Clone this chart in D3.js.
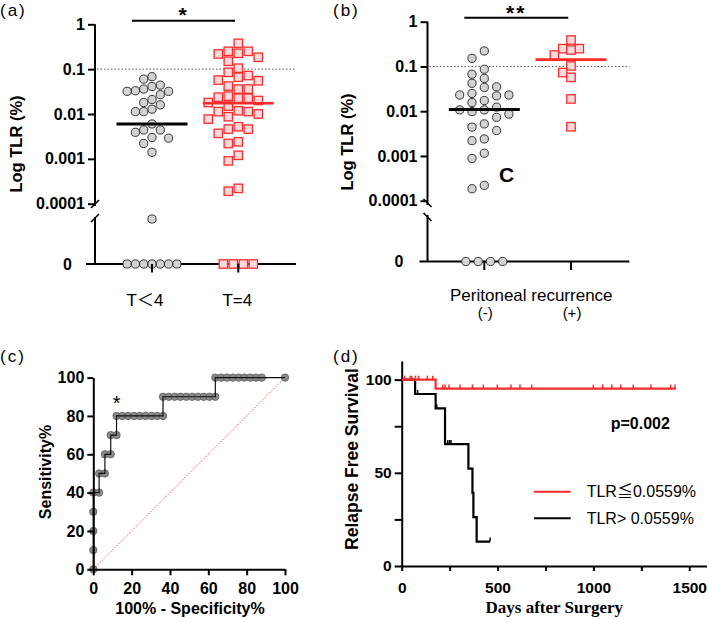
<!DOCTYPE html>
<html><head><meta charset="utf-8">
<script src="https://cdn.jsdelivr.net/npm/d3@7"></script>
<style>
html,body{margin:0;padding:0;background:#fff;}
svg{display:block;}
</style></head><body>
<svg id="c" width="709" height="619"></svg>
<script>
// ---------------- DATA ----------------
// Panel (a): TLR (%) by T stage (0 = undetectable)
const catA = ["T\uFF1C4", "T=4"];
const aLowT = [0.068, 0.060, 0.044, 0.041, 0.036, 0.033, 0.032, 0.032, 0.027, 0.021, 0.018, 0.016,
  0.0128, 0.0113, 0.0113, 0.006, 0.0044, 0.0044, 0.0039, 0.0030, 0.0029, 0.0022, 0.0014, 0.00009,
  0, 0, 0, 0, 0, 0, 0];
const aT4 = [0.377, 0.25, 0.25, 0.226, 0.218, 0.184, 0.15, 0.105, 0.085, 0.072, 0.066, 0.057, 0.055,
  0.042, 0.036, 0.036, 0.025, 0.0237, 0.0225, 0.0225, 0.020, 0.018, 0.015, 0.0118, 0.0113, 0.0113,
  0.010, 0.0087, 0.0077, 0.0052, 0.0046, 0.0046, 0.0037, 0.0024, 0.0022, 0.0012, 0.0009, 0.00022, 0.00019,
  0, 0, 0, 0];
const aMedians = [0.006, 0.0174];

// Panel (b): TLR (%) by peritoneal recurrence
const catB = ["(-)", "(+)"];
const bNeg = [0.222, 0.152, 0.0865, 0.067, 0.054, 0.042, 0.035, 0.034, 0.025, 0.023, 0.023, 0.022,
  0.0173, 0.0156, 0.0123, 0.0107, 0.0107, 0.0098, 0.0086, 0.0073, 0.0052, 0.0044, 0.0037, 0.0024,
  0.0022, 0.00115, 0.00088, 0.00022, 0.000185, 0, 0, 0, 0];
const bPos = [0.39, 0.25, 0.25, 0.233, 0.18, 0.1025, 0.073, 0.057, 0.0188, 0.0045];
const bMedians = [0.0109, 0.142];

const logTicks = [1, 0.1, 0.01, 0.001, 0.0001];
const zeroTick = [0];

// Panel (c): ROC curve
const rocFPR = [0, 0, 0, 0, 0, 3.03, 3.03, 6.06, 6.06, 9.09, 9.09, 12.12, 12.12, 15.15, 18.18, 21.21,
  24.24, 27.27, 30.30, 33.33, 36.36, 36.36, 39.39, 42.42, 45.45, 48.48, 51.52, 54.55, 57.58, 60.61,
  63.64, 63.64, 66.67, 69.70, 72.73, 75.76, 78.79, 81.82, 84.85, 87.88, 100];
const rocSens = [0, 10, 20, 30, 40, 40, 50, 50, 60, 60, 70, 70, 80, 80, 80, 80, 80, 80, 80, 80, 80,
  90, 90, 90, 90, 90, 90, 90, 90, 90, 90, 100, 100, 100, 100, 100, 100, 100, 100, 100, 100];
const rocTicks = [0, 20, 40, 60, 80, 100];

// Panel (d): Kaplan-Meier relapse free survival
const kmLowTime = [0, 177, 1430];
const kmLowSurv = [100, 95.2, 95.2];
const kmLowCensor = [15, 44, 52, 72, 88, 134, 162, 214, 226, 247, 304, 369, 426, 499, 570, 617, 678,
  1000, 1049, 1096, 1143, 1208, 1300, 1403, 1426];
const kmHighTime = [0, 70, 177, 226, 348, 369, 374, 391, 461];
const kmHighSurv = [100, 92.3, 84.6, 65.4, 52.3, 39.2, 26.2, 13.1, 13.1];
const kmHighCensor = [83, 183, 240, 249, 257, 461];
const kmYTicks = [0, 25, 50, 75, 100];
const kmYLabels = [0, 50, 100];
const kmXTicks = [0, 250, 500, 750, 1000, 1250, 1500];
const kmXLabels = [0, 500, 1000, 1500];
const legendLabels = ["TLR\u22660.0559%", "TLR> 0.0559%"];

// ---------------- DRAW ----------------
const SANS = '"Liberation Sans", Arial, "Noto Sans CJK JP", sans-serif';
const SERIF = '"Liberation Serif", "Times New Roman", serif';
const RED = "#ff2a2a";
const svg = d3.select("#c");
svg.append("rect").attr("width", 709).attr("height", 619).attr("fill", "#fff");

function styleAxis(g, size, weight) {
  g.attr("font-family", SANS).attr("font-size", size).attr("font-weight", weight);
  g.selectAll("text").attr("fill", "#000");
  g.selectAll(".tick line").attr("stroke", "#000").attr("stroke-width", 2);
  g.select(".domain").attr("stroke", "#000").attr("stroke-width", 2);
}

function swarm(values, yf, cx, step, minDist) {
  const placed = [];
  values.filter(v => v > 0).slice().sort((a, b) => b - a).forEach(v => {
    const y = yf(v);
    for (let i = 0; i < 60; i++) {
      const k = i === 0 ? 0 : (i % 2 ? -Math.ceil(i / 2) : Math.ceil(i / 2));
      if (!placed.some(p => p.k === k && Math.abs(p.y - y) < minDist)) { placed.push({ v, y, k }); break; }
    }
  });
  const out = placed.map(p => ({ v: p.v, x: cx + p.k * step, y: p.y }));
  const z = values.filter(v => v === 0);
  z.forEach((v, i) => out.push({ v, x: cx + (i - (z.length - 1) / 2) * step, y: yf(0) }));
  return out;
}

function scatterPanel(o) {
  const yLog = d3.scaleLog().domain([1e-4, 1]).range([o.yMin, o.yOne]);
  const yLin = d3.scaleLinear().domain([0, 1e-4]).range([o.yZero, o.linTop]);
  const yf = v => v >= 1e-4 ? yLog(v) : yLin(v);
  const x = d3.scalePoint().domain(o.cats).range(o.catRange);
  const g = svg.append("g");

  // reference line at 0.1
  g.append("line").attr("x1", o.axisX + 2).attr("x2", o.xRight)
    .attr("y1", yLog(0.1)).attr("y2", yLog(0.1))
    .attr("stroke", "#555").attr("stroke-width", 1).attr("stroke-dasharray", "1.5,2");

  // y axis (log part + zero part)
  const ga = g.append("g").attr("transform", `translate(${o.axisX},0)`)
    .call(d3.axisLeft(yLog).tickValues(logTicks).tickFormat(d => String(d)).tickSize(7).tickPadding(3).tickSizeOuter(0));
  ga.select(".domain").remove();
  styleAxis(ga, 16, "bold");
  const gz = g.append("g").attr("transform", `translate(${o.axisX},0)`)
    .call(d3.axisLeft(yLin).tickValues(zeroTick).tickFormat(d => String(d)).tickSize(7).tickPadding(o.zeroPad).tickSizeOuter(0));
  gz.select(".domain").remove();
  gz.selectAll(".tick line").remove();
  styleAxis(gz, 16, "bold");

  g.append("line").attr("x1", o.axisX).attr("x2", o.axisX).attr("y1", o.yOne).attr("y2", o.gapTop)
    .attr("stroke", "#000").attr("stroke-width", 2);
  g.append("line").attr("x1", o.axisX).attr("x2", o.axisX).attr("y1", o.gapBottom).attr("y2", o.yZero)
    .attr("stroke", "#000").attr("stroke-width", 2);
  o.slashes.forEach(sy => {
    g.append("line").attr("x1", o.axisX - 4).attr("x2", o.axisX + 4)
      .attr("y1", sy + 4 * o.slashDir).attr("y2", sy - 4 * o.slashDir)
      .attr("stroke", "#000").attr("stroke-width", 1.6);
  });

  // x axis line
  g.append("line").attr("x1", o.xLeft).attr("x2", o.xRight).attr("y1", o.yZero).attr("y2", o.yZero)
    .attr("stroke", "#000").attr("stroke-width", 2);

  // points
  o.groups.forEach((grp, gi) => {
    const pts = swarm(grp.values, yf, x(o.cats[gi]), grp.step, grp.minDist);
    if (grp.shape === "circle") {
      g.selectAll(null).data(pts).enter().append("circle")
        .attr("cx", d => d.x).attr("cy", d => d.y).attr("r", 4.1)
        .attr("fill", "#d3d3d3").attr("stroke", "#333").attr("stroke-width", 1);
    } else {
      g.selectAll(null).data(pts).enter().append("rect")
        .attr("x", d => d.x - 4.2).attr("y", d => d.y - 4.2).attr("width", 8.4).attr("height", 8.4)
        .attr("fill", "#fbd9dc").attr("stroke", RED).attr("stroke-width", 1.3);
    }
  });

  // category ticks
  o.cats.forEach(c => {
    g.append("line").attr("x1", x(c)).attr("x2", x(c)).attr("y1", o.yZero).attr("y2", o.yZero + 8.5)
      .attr("stroke", "#000").attr("stroke-width", 2);
  });

  // medians
  o.medians.forEach((m, i) => {
    g.append("line").attr("x1", x(o.cats[i]) - 35.5).attr("x2", x(o.cats[i]) + 35.5)
      .attr("y1", yLog(m)).attr("y2", yLog(m))
      .attr("stroke", o.medColors[i]).attr("stroke-width", i === 0 ? 3 : 2.6);
  });

  // significance bar
  g.append("line").attr("x1", o.sig.x1).attr("x2", o.sig.x2).attr("y1", o.sig.y).attr("y2", o.sig.y)
    .attr("stroke", "#000").attr("stroke-width", 2);
  g.append("text").attr("x", (o.sig.x1 + o.sig.x2) / 2).attr("y", o.sig.ty)
    .attr("text-anchor", "middle").attr("font-family", SANS).attr("font-weight", "bold")
    .attr("font-size", 21).attr("letter-spacing", 2).text(o.sig.text);
  return { x, yLog, yf, g };
}

// ---- Panel (a)
const pa = scatterPanel({
  axisX: 95, xLeft: 86, xRight: 296, yOne: 24.3, yMin: 203.7, yZero: 264, linTop: 214,
  gapTop: 206, gapBottom: 217, slashes: [204, 218], slashDir: 1, zeroPad: 16,
  cats: catA, catRange: [152, 238.3],
  groups: [{ values: aLowT, shape: "circle", step: 8.3, minDist: 8.6 },
           { values: aT4, shape: "square", step: 10, minDist: 9 }],
  medians: aMedians, medColors: ["#000", RED],
  sig: { x1: 132, x2: 235, y: 20.7, ty: 21.5, text: "*" }
});
// ---- Panel (b)
const pb = scatterPanel({
  axisX: 427.5, xLeft: 419.5, xRight: 629.3, yOne: 21.7, yMin: 200.7, yZero: 261.5, linTop: 211.5,
  gapTop: 205, gapBottom: 215, slashes: [203, 217], slashDir: -1, zeroPad: 17,
  cats: catB, catRange: [484.3, 571],
  groups: [{ values: bNeg, shape: "circle", step: 12.3, minDist: 8.6 },
           { values: bPos, shape: "square", step: 8.3, minDist: 9 }],
  medians: bMedians, medColors: ["#000", RED],
  sig: { x1: 464.3, x2: 568.3, y: 17.7, ty: 20, text: "**" }
});

// x labels
svg.append("text").attr("x", pa.x(catA[0]) - 7).attr("y", 306).attr("text-anchor", "middle")
  .attr("font-family", SANS).attr("font-size", 17).text(catA[0]);
svg.append("text").attr("x", pa.x(catA[1]) - 1).attr("y", 306).attr("text-anchor", "middle")
  .attr("font-family", SANS).attr("font-size", 17).text(catA[1]);
svg.append("text").attr("x", 531.3).attr("y", 301).attr("text-anchor", "middle")
  .attr("font-family", SANS).attr("font-size", 17).text("Peritoneal recurrence");
catB.forEach(c => {
  svg.append("text").attr("x", pb.x(c) + 1).attr("y", 318).attr("text-anchor", "middle")
    .attr("font-family", SANS).attr("font-size", 15).text(c);
});
svg.append("text").attr("x", 499).attr("y", 181.7).attr("font-family", SANS)
  .attr("font-weight", "bold").attr("font-size", 21).text("C");

function vLabel(x, y, txt, size, family) {
  svg.append("text").attr("transform", `translate(${x},${y}) rotate(-90)`).attr("dy", "0.36em")
    .attr("text-anchor", "middle").attr("font-family", family || SANS).attr("font-weight", "bold")
    .attr("font-size", size).text(txt);
}
vLabel(16, 144, "Log TLR (%)", 16.5);
vLabel(347.5, 142, "Log TLR (%)", 16.5);

// panel letters
[["(a)", 0, 16], ["(b)", 333, 16], ["(c)", 0, 362], ["(d)", 333, 362]].forEach(([t, x, y]) => {
  svg.append("text").attr("x", x).attr("y", y).attr("font-family", SANS).attr("font-size", 17)
    .attr("letter-spacing", 2).text(t);
});

// ---- Panel (c)
const xC = d3.scaleLinear().domain([0, 100]).range([93.3, 285]);
const yC = d3.scaleLinear().domain([0, 100]).range([569.3, 377.6]);
const gc = svg.append("g");
gc.append("line").attr("x1", xC(0)).attr("y1", yC(0)).attr("x2", xC(100)).attr("y2", yC(100))
  .attr("stroke", "#ff5050").attr("stroke-width", 1).attr("stroke-dasharray", "1.5,1.5");
const rocPts = rocFPR.map((f, i) => [f, rocSens[i]]);
gc.selectAll(null).data(rocPts).enter().append("circle")
  .attr("cx", d => xC(d[0])).attr("cy", d => yC(d[1])).attr("r", 3.7)
  .attr("fill", "#8a8a8a").attr("stroke", "#5a5a5a").attr("stroke-width", 0.8);
gc.append("path").datum(rocPts).attr("d", d3.line().x(d => xC(d[0])).y(d => yC(d[1])))
  .attr("fill", "none").attr("stroke", "#111").attr("stroke-width", 1.2);
const gcy = gc.append("g").attr("transform", `translate(${xC(0)},0)`)
  .call(d3.axisLeft(yC).tickValues(rocTicks).tickSize(6).tickPadding(3).tickSizeOuter(0));
styleAxis(gcy, 16, "bold");
const gcx = gc.append("g").attr("transform", `translate(0,${yC(0)})`)
  .call(d3.axisBottom(xC).tickValues(rocTicks).tickSize(6).tickPadding(7).tickSizeOuter(0));
styleAxis(gcx, 16, "bold");
vLabel(45, 472, "Sensitivity%", 16);
svg.append("text").attr("x", 190).attr("y", 614).attr("text-anchor", "middle").attr("font-family", SANS)
  .attr("font-weight", "bold").attr("font-size", 16).text("100% - Specificity%");
svg.append("text").attr("x", xC(12.12)).attr("y", 410).attr("text-anchor", "middle").attr("font-family", SANS)
  .attr("font-size", 20).text("*");

// ---- Panel (d)
const xD = d3.scaleLinear().domain([0, 1590]).range([401.7, 706.5]);
const yD = d3.scaleLinear().domain([0, 110]).range([566, 361]);
const gd = svg.append("g");
const gdy = gd.append("g").attr("transform", `translate(${xD(0)},0)`)
  .call(d3.axisLeft(yD).tickValues(kmYTicks).tickFormat(d => kmYLabels.includes(d) ? d : "")
    .tickSize(7).tickPadding(3).tickSizeOuter(0));
styleAxis(gdy, 15.5, "bold");
const gdx = gd.append("g").attr("transform", `translate(0,${yD(0)})`)
  .call(d3.axisBottom(xD).tickValues(kmXTicks).tickFormat(d => kmXLabels.includes(d) ? d : "")
    .tickSize(5).tickPadding(11).tickSizeOuter(0));
styleAxis(gdx, 15.5, "bold");

function kmAt(times, surv, t) { let s = surv[0]; times.forEach((tt, i) => { if (tt <= t) s = surv[i]; }); return s; }
function kmCurve(times, surv, censor, color) {
  const pts = times.map((t, i) => [t, surv[i]]);
  gd.append("path").datum(pts)
    .attr("d", d3.line().curve(d3.curveStepAfter).x(d => xD(d[0])).y(d => yD(d[1])))
    .attr("fill", "none").attr("stroke", color).attr("stroke-width", 2.2);
  gd.selectAll(null).data(censor).enter().append("line")
    .attr("x1", d => xD(d)).attr("x2", d => xD(d))
    .attr("y1", d => yD(kmAt(times, surv, d))).attr("y2", d => yD(kmAt(times, surv, d)) - 4)
    .attr("stroke", color).attr("stroke-width", 1.5);
}
kmCurve(kmHighTime, kmHighSurv, kmHighCensor, "#000");
kmCurve(kmLowTime, kmLowSurv, kmLowCensor, RED);

svg.append("text").attr("x", 610.7).attr("y", 429.3).attr("font-family", SANS).attr("font-weight", "bold")
  .attr("font-size", 16).text("p=0.002");
[[RED, 491.7], ["#000", 518.3]].forEach(([col, y], i) => {
  svg.append("line").attr("x1", 534).attr("x2", 570.7).attr("y1", y).attr("y2", y)
    .attr("stroke", col).attr("stroke-width", 2);
  svg.append("text").attr("x", 586.7).attr("y", y).attr("dy", "0.36em").attr("font-family", SANS)
    .attr("font-size", 16).text(legendLabels[i]);
});
vLabel(352, 459, "Relapse Free Survival", 17.5);
svg.append("text").attr("x", 554.3).attr("y", 613).attr("text-anchor", "middle").attr("font-family", SERIF)
  .attr("font-weight", "bold").attr("font-size", 17).text("Days after Surgery");
</script>
</body></html>
